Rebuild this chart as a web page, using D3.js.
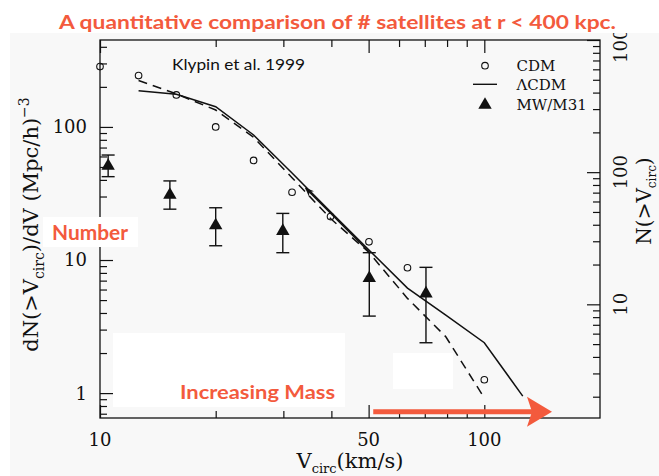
<!DOCTYPE html>
<html><head><meta charset="utf-8">
<script src="https://cdn.jsdelivr.net/npm/d3@7"></script>
<style>html,body{margin:0;padding:0;background:#fff;} svg{display:block}</style>
</head><body><svg id="c" width="659" height="476"></svg>
<script>
// ---- data ----
const cdmV  = [10, 12.6, 15.8, 20, 25.1, 31.6, 39.8, 50.1, 63.1, 100];
const cdmN  = [284, 243, 174, 100, 56, 32.3, 21.2, 13.7, 8.75, 1.26];
const lcdmV = [12.6, 15.8, 20, 25.1, 31.6, 39.8, 50.1, 63.1, 79.4, 100, 125.9];
const lcdmN = [187, 176, 142, 87, 45, 23, 11.9, 6.15, 3.85, 2.39, 0.95];
const dashV = [12.6, 15.8, 20, 25.1, 31.6, 39.8, 50.1, 63.1, 79.4, 100];
const dashN = [223, 177, 134, 83.7, 41.5, 20.5, 11.4, 5.15, 2.65, 0.92];
const mwV   = [10.5, 15.2, 20.0, 29.9, 50.2, 70.5];
const mwN   = [50.9, 30.8, 18.2, 16.5, 7.3, 5.6];
const mwLo  = [42.3, 24.1, 12.8, 11.35, 3.79, 2.39];
const mwHi  = [61.5, 39.3, 24.7, 22.4, 11.35, 8.81];
const xMajor = [10, 50, 100];
const xMajorLabels = ["10", "50", "100"];
const xMinor = [20, 30, 40, 60, 70, 80, 90];
const yMajor = [1, 10, 100];
const yMajorLabels = ["1", "10", "100"];
const yMinor = [0.7, 0.8, 0.9, 2, 3, 4, 5, 6, 7, 8, 9, 20, 30, 40, 50, 60, 70, 80, 90, 200, 300, 400];
const rMajor = [10, 100, 1000];
const rMajorLabels = ["10", "100", "1000"];
const rMinor = [2, 3, 4, 5, 6, 7, 8, 9, 20, 30, 40, 50, 60, 70, 80, 90, 200, 300, 400, 500, 600, 700, 800, 900];
const legendLabels = ["CDM", "\u039BCDM", "MW/M31"];
// annotation arrow along the \u039BCDM curve (data coords)
const blackArrow = [[50.8, 11.7], [34.6, 35.6]];
const massArrowV = [51.4, 150];
const massArrowN = 0.725;

// ---- setup ----
const svg = d3.select("#c");
const L = 100, R = 600, T = 40, B = 418;
const x  = d3.scaleLog().domain([10, 200]).range([L, R]);
const yL = d3.scaleLog().domain([0.65, 450]).range([B, T]);
const yR = d3.scaleLog().domain([1.38, 1000]).range([B, T]);
const serif = "DejaVu Serif, serif";
const orange = "#f35a3d";

// background of scanned figure
svg.append("rect").attr("x", 0).attr("y", 0).attr("width", 659).attr("height", 476).attr("fill", "#fff");
svg.append("rect").attr("x", 10).attr("y", 33).attr("width", 649).attr("height", 443).attr("fill", "#f8f8f8");

// frame
svg.append("rect").attr("x", L).attr("y", T).attr("width", R - L).attr("height", B - T)
  .attr("fill", "none").attr("stroke", "#111").attr("stroke-width", 1.3);

function ticks(axis, vals, size, tr) {
  const g = svg.append("g").attr("transform", tr)
    .call(axis.tickValues(vals).tickSize(size).tickFormat(""));
  g.select(".domain").remove();
  g.selectAll("line").attr("stroke", "#111").attr("stroke-width", 1.2);
}
ticks(d3.axisBottom(x), xMajor, -13, `translate(0,${B})`);
ticks(d3.axisBottom(x), xMinor, -7, `translate(0,${B})`);
ticks(d3.axisTop(x), xMajor, -13, `translate(0,${T})`);
ticks(d3.axisTop(x), xMinor, -7, `translate(0,${T})`);
ticks(d3.axisLeft(yL), yMajor, -13, `translate(${L},0)`);
ticks(d3.axisLeft(yL), yMinor, -7, `translate(${L},0)`);
ticks(d3.axisRight(yR), rMajor, -13, `translate(${R},0)`);
ticks(d3.axisRight(yR), rMinor, -7, `translate(${R},0)`);

// tick labels
svg.append("g").selectAll("text").data(xMajor).join("text")
  .attr("x", d => x(d)).attr("y", 446).attr("text-anchor", "middle")
  .attr("font-family", serif).attr("font-size", 18).attr("fill", "#111")
  .text((d, i) => xMajorLabels[i]);
svg.append("g").selectAll("text").data(yMajor).join("text")
  .attr("x", 87).attr("y", d => yL(d)).attr("dy", "0.36em").attr("text-anchor", "end")
  .attr("font-family", serif).attr("font-size", 18).attr("fill", "#111")
  .text((d, i) => yMajorLabels[i]);
svg.append("g").selectAll("text").data(rMajor).join("text")
  .attr("transform", d => `translate(627,${yR(d)}) rotate(-90)`).attr("text-anchor", "middle")
  .attr("font-family", serif).attr("font-size", 18).attr("fill", "#111")
  .text((d, i) => rMajorLabels[i]);

// axis titles
const xt = svg.append("text").attr("x", 350).attr("y", 468).attr("text-anchor", "middle")
  .attr("font-family", serif).attr("font-size", 21).attr("fill", "#111");
xt.append("tspan").text("V");
xt.append("tspan").attr("dy", 5).attr("font-size", 13).text("circ");
xt.append("tspan").attr("dy", -5).text("(km/s)");

const yt = svg.append("text").attr("transform", "translate(37.5,224.5) rotate(-90)").attr("text-anchor", "middle")
  .attr("font-family", serif).attr("font-size", 21).attr("fill", "#111");
yt.append("tspan").text("dN(>V");
yt.append("tspan").attr("dy", 6).attr("font-size", 14).text("circ");
yt.append("tspan").attr("dy", -6).text(")/dV  (Mpc/h)");
yt.append("tspan").attr("dy", -9).attr("font-size", 14).text("\u22123");

const rt = svg.append("text").attr("transform", "translate(651,201) rotate(-90)").attr("text-anchor", "middle")
  .attr("font-family", serif).attr("font-size", 20).attr("fill", "#111");
rt.append("tspan").text("N(>V");
rt.append("tspan").attr("dy", 5).attr("font-size", 12).text("circ");
rt.append("tspan").attr("dy", -5).text(")");

// white cover patches from the slide
svg.append("rect").attr("x", 43).attr("y", 217).attr("width", 95).attr("height", 30).attr("fill", "#fff");
svg.append("rect").attr("x", 113).attr("y", 333).attr("width", 232).attr("height", 74).attr("fill", "#fff");
svg.append("rect").attr("x", 393).attr("y", 353).attr("width", 60).attr("height", 36).attr("fill", "#fff");

// curves
const line = d3.line().x(d => x(d[0])).y(d => yL(d[1]));
svg.append("path").attr("d", line(lcdmV.map((v, i) => [v, lcdmN[i]])))
  .attr("fill", "none").attr("stroke", "#111").attr("stroke-width", 1.5);
svg.append("path").attr("d", line(dashV.map((v, i) => [v, dashN[i]])))
  .attr("fill", "none").attr("stroke", "#111").attr("stroke-width", 1.5).attr("stroke-dasharray", "9,6");

// black arrow annotation
svg.append("defs").append("marker").attr("id", "ah").attr("viewBox", "0 0 10 10")
  .attr("refX", 9).attr("refY", 5).attr("markerWidth", 9).attr("markerHeight", 9)
  .attr("markerUnits", "userSpaceOnUse").attr("orient", "auto")
  .append("path").attr("d", "M0,1 L10,5 L0,9 L3,5 Z").attr("fill", "#111");
svg.append("path").attr("d", line(blackArrow))
  .attr("transform", "translate(-1.5,1.5)")
  .attr("fill", "none").attr("stroke", "#111").attr("stroke-width", 1.6).attr("marker-end", "url(#ah)");

// error bars
const eb = svg.append("g").attr("stroke", "#111").attr("stroke-width", 1.4);
mwV.forEach((v, i) => {
  const cx = x(v);
  eb.append("line").attr("x1", cx).attr("x2", cx).attr("y1", yL(mwLo[i])).attr("y2", yL(mwHi[i]));
  eb.append("line").attr("x1", cx - 6.5).attr("x2", cx + 6.5).attr("y1", yL(mwLo[i])).attr("y2", yL(mwLo[i]));
  eb.append("line").attr("x1", cx - 6.5).attr("x2", cx + 6.5).attr("y1", yL(mwHi[i])).attr("y2", yL(mwHi[i]));
});
const tri = d3.symbol().type(d3.symbolTriangle).size(78);
svg.append("g").selectAll("path").data(mwV).join("path")
  .attr("transform", (d, i) => `translate(${x(d)},${yL(mwN[i])})`).attr("d", tri).attr("fill", "#111");

// CDM circles
svg.append("g").selectAll("circle").data(cdmV).join("circle")
  .attr("cx", d => x(d)).attr("cy", (d, i) => yL(cdmN[i])).attr("r", 3.3)
  .attr("fill", "none").attr("stroke", "#111").attr("stroke-width", 1.1);

// legend
const lg = svg.append("g");
lg.append("circle").attr("cx", 485).attr("cy", 65.7).attr("r", 3.3).attr("fill", "none").attr("stroke", "#111").attr("stroke-width", 1.1);
lg.append("line").attr("x1", 473).attr("x2", 497).attr("y1", 84.3).attr("y2", 84.3).attr("stroke", "#111").attr("stroke-width", 1.4);
lg.append("path").attr("transform", "translate(485,105)").attr("d", tri).attr("fill", "#111");
lg.selectAll("text").data(legendLabels).join("text")
  .attr("x", 516.5).attr("y", (d, i) => 71 + i * 19.3)
  .attr("font-family", serif).attr("font-size", 15).attr("fill", "#111").text(d => d);

// citation
svg.append("text").attr("x", 172).attr("y", 70).attr("font-family", "Lato, sans-serif").attr("font-size", 16)
  .attr("fill", "#111").attr("textLength", 133).attr("lengthAdjust", "spacingAndGlyphs").text("Klypin et al. 1999");

// orange annotations
svg.append("text").attr("x", 52).attr("y", 240).attr("font-family", "Lato, sans-serif").attr("font-weight", "bold")
  .attr("font-size", 20).attr("fill", orange).attr("textLength", 76).attr("lengthAdjust", "spacingAndGlyphs").text("Number");
svg.append("text").attr("x", 180).attr("y", 399).attr("font-family", "Lato, sans-serif").attr("font-weight", "bold")
  .attr("font-size", 19).attr("fill", orange).attr("textLength", 155).attr("lengthAdjust", "spacingAndGlyphs").text("Increasing Mass");

const ay = yL(massArrowN), ax0 = x(massArrowV[0]), ax1 = x(massArrowV[1]);
svg.append("line").attr("x1", ax0).attr("x2", ax1 - 20).attr("y1", ay).attr("y2", ay)
  .attr("stroke", orange).attr("stroke-width", 5);
svg.append("path").attr("d", `M${ax1},${ay} L${ax1 - 25},${ay - 15} L${ax1 - 20},${ay} L${ax1 - 25},${ay + 15} Z`)
  .attr("fill", orange);

// title band
svg.append("rect").attr("x", 0).attr("y", 0).attr("width", 659).attr("height", 33).attr("fill", "#fff");
svg.append("text").attr("x", 337.5).attr("y", 29).attr("text-anchor", "middle")
  .attr("font-family", "Lato, sans-serif").attr("font-weight", "bold").attr("font-size", 19)
  .attr("fill", orange).attr("textLength", 557).attr("lengthAdjust", "spacingAndGlyphs")
  .text("A quantitative comparison of # satellites at r < 400 kpc.");
</script></body></html>
